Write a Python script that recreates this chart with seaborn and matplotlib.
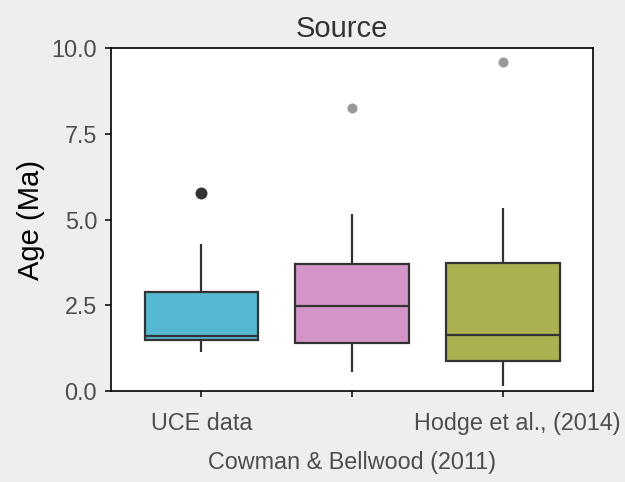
import numpy as np
import pandas as pd
import matplotlib
matplotlib.use("Agg")
import matplotlib.pyplot as plt
import matplotlib.transforms as mtransforms
import seaborn as sns

# ---- data ----
categories = ["UCE data", "Cowman & Bellwood (2011)", "Hodge et al., (2014)"]
uce_ages = [1.15, 1.30, 1.49, 1.55, 1.61, 2.20, 2.88, 4.29, 5.78]
cowman_ages = [0.55, 1.00, 1.41, 2.00, 2.48, 3.10, 3.69, 5.15, 8.24]
hodge_ages = [0.15, 0.50, 0.87, 1.20, 1.63, 2.60, 3.72, 5.34, 9.60]
box_colors = ["#55B8D0", "#D395C7", "#ABB150"]
y_ticks = [0.0, 2.5, 5.0, 7.5, 10.0]

df = pd.DataFrame({
    "Source": [categories[0]] * len(uce_ages) + [categories[1]] * len(cowman_ages)
              + [categories[2]] * len(hodge_ages),
    "Age": uce_ages + cowman_ages + hodge_ages,
})

# outliers by 1.5*IQR rule
def flag(g):
    q1, q3 = np.percentile(g["Age"], [25, 75])
    iqr = q3 - q1
    return (g["Age"] > q3 + 1.5 * iqr) | (g["Age"] < q1 - 1.5 * iqr)

df["out"] = df.groupby("Source", group_keys=False)[["Age"]].apply(flag).values
outs = df[df["out"]]
out_first = outs[outs["Source"] == categories[0]]
out_rest = outs[outs["Source"] != categories[0]]

sns.set_theme(style="white")
plt.rcParams["font.family"] = ["Liberation Sans", "DejaVu Sans"]

fig = plt.figure(figsize=(6.25, 4.82), dpi=100, facecolor="#EEEEEE")
ax = fig.add_axes([0.1776, 0.1888, 0.7714, 0.7116])
ax.set_facecolor("white")

line_c = "#333333"
sns.boxplot(data=df, x="Source", y="Age", order=categories, hue="Source",
            hue_order=categories, palette=box_colors, legend=False,
            width=0.755, showfliers=False, showcaps=False, whis=1.5,
            linewidth=1.6, linecolor=line_c, saturation=1, ax=ax)

sns.stripplot(data=out_first, x="Source", y="Age", order=categories,
              jitter=False, color="#333333", size=8.6, linewidth=0, ax=ax)
sns.stripplot(data=out_rest, x="Source", y="Age", order=categories,
              jitter=False, color="#999999", size=7.2, linewidth=0, ax=ax)

ax.set_xlim(-0.6, 2.6)
ax.set_ylim(0, 10)
ax.set_yticks(y_ticks)
ax.set_yticklabels([f"{v:.1f}" for v in y_ticks])

for s in ax.spines.values():
    s.set_visible(True)
    s.set_color("black")
    s.set_linewidth(1.2)

ax.tick_params(axis="both", which="both", direction="out", length=4.5, width=1.4,
               color=line_c, labelsize=16.8, labelcolor="#4D4D4D",
               bottom=True, left=True)
ax.tick_params(axis="x", pad=10.5)
ax.tick_params(axis="y", pad=5.5)
ax.xaxis.get_major_ticks()[1].set_pad(38.5)

# the last label sits a little right of its tick in the reference
lab = ax.get_xticklabels()[2]
lab.set_transform(lab.get_transform() +
                  mtransforms.ScaledTranslation(0.15, 0, fig.dpi_scale_trans))

ax.set_xlabel("")
ax.set_ylabel("Age (Ma)", fontsize=21, color="black", labelpad=5)
ax.set_title("Source", fontsize=21, color="#333333", pad=8, x=0.479)

fig.savefig("out.png", dpi=100, facecolor=fig.get_facecolor())
